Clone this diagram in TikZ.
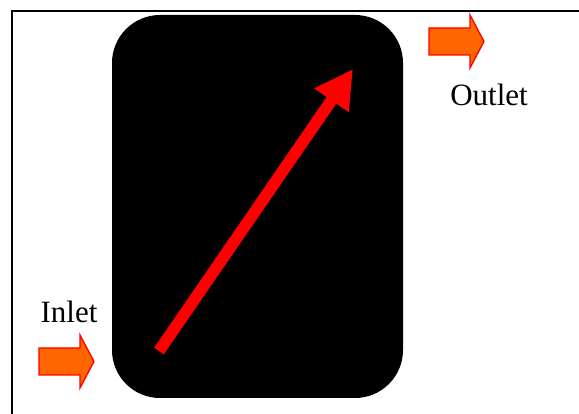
\documentclass[tikz,border=0pt]{standalone}
\usepackage{fontspec}
\setmainfont{Liberation Serif}
\usetikzlibrary{arrows.meta}
\definecolor{flowfill}{RGB}{255,102,0}
\begin{document}
\begin{tikzpicture}[x=1pt,y=-1pt,
  flowarrow/.style={fill=flowfill, draw=red, line width=1.3pt, line join=miter},
  lbl/.style={font=\fontsize{31}{31}\selectfont, inner sep=0pt, anchor=base}]
\useasboundingbox (0,0) rectangle (579,414);
\fill[white] (0,0) rectangle (579,414);
% frame
\draw[line width=2pt] (12,414) -- (12,11) -- (579,11);
% tank
\node[fill=black, rounded corners=48pt, minimum width=291pt, minimum height=383pt, inner sep=0pt] (tank) at (257.5,206.5) {};
% internal flow arrow
\coordinate (tail) at (159,351);
\coordinate (tip) at (353,69);
\draw[red, line width=11.7pt, -{Triangle[length=38pt,width=39pt]}] (tail) -- (tip);
% inlet / outlet arrows
\filldraw[flowarrow] (39,348) -- (80,348) -- (80,335) -- (94,361.5) -- (80,388) -- (80,375) -- (39,375) -- cycle;
\filldraw[flowarrow] (429,28) -- (470,28) -- (470,15) -- (484,41.5) -- (470,68) -- (470,55) -- (429,55) -- cycle;
% labels
\node[lbl] (inlet) at (69,323) {Inlet};
\node[lbl] (outlet) at (489,106) {Outlet};
\end{tikzpicture}
\end{document}
